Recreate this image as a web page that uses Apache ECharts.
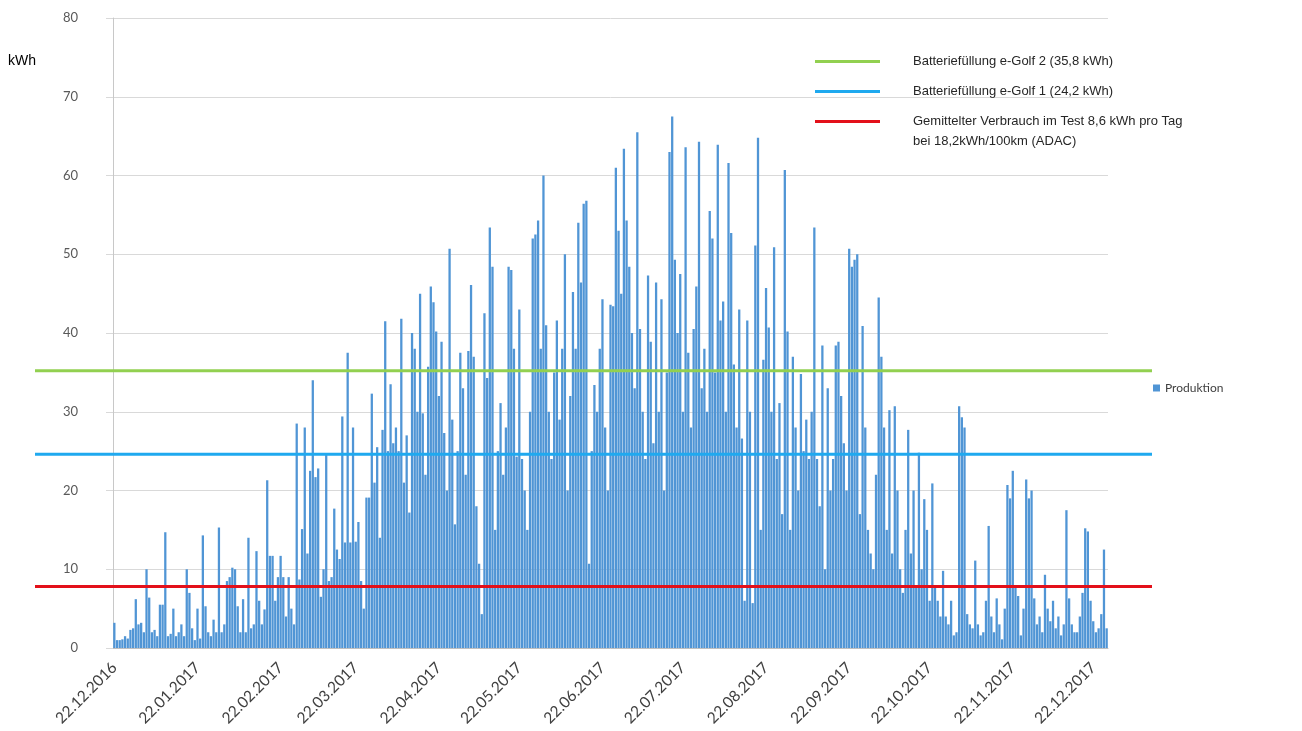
<!DOCTYPE html>
<html>
<head>
<meta charset="utf-8">
<script src="https://cdn.jsdelivr.net/npm/echarts@6/dist/echarts.min.js"></script>
<style>
  html, body { margin: 0; padding: 0; background: #fff; }
  #chart { width: 1302px; height: 731px; }
</style>
</head>
<body>
<div id="chart"></div>
<script>
// Tagesproduktion in kWh, ab 22.12.2016
var dec16 = [3.2, 1.0, 1.0, 1.1, 1.5, 1.2, 2.3, 2.5, 6.2, 3.0];
var jan17 = [3.2, 2.0, 10.0, 6.4, 2.0, 2.3, 1.5, 5.5, 5.5, 14.7, 1.5, 1.8, 5.0, 1.5, 2.0, 3.0, 1.5, 10.0, 7.0, 2.5, 1.0, 5.0, 1.2, 14.3, 5.3, 2.0, 1.5, 3.6, 2.0, 15.3, 2.0];
var feb17 = [3.0, 8.5, 9.0, 10.2, 10.0, 5.3, 2.0, 6.2, 2.0, 14.0, 2.5, 3.0, 12.3, 6.0, 3.0, 4.9, 21.3, 11.7, 11.7, 6.0, 9.0, 11.7, 9.0, 4.0, 9.0, 5.0, 3.0, 28.5];
var mar17 = [8.7, 15.1, 28.0, 12.0, 22.5, 34.0, 21.7, 22.8, 6.5, 10.0, 24.5, 8.5, 9.0, 17.7, 12.5, 11.3, 29.4, 13.4, 37.5, 13.4, 28.0, 13.5, 16.0, 8.5, 5.0, 19.1, 19.1, 32.3, 21.0, 25.5, 14.0];
var apr17 = [27.7, 41.5, 25.0, 33.5, 26.0, 28.0, 25.0, 41.8, 21.0, 27.0, 17.2, 40.0, 38.0, 30.0, 45.0, 29.8, 22.0, 35.7, 45.9, 43.9, 40.2, 32.0, 38.9, 27.3, 20.0, 50.7, 29.0, 15.7, 25.0, 37.5];
var may17 = [33.0, 22.0, 37.7, 46.1, 37.0, 18.0, 10.7, 4.3, 42.5, 34.3, 53.4, 48.4, 15.0, 25.0, 31.1, 22.0, 28.0, 48.4, 48.0, 38.0, 24.3, 43.0, 24.0, 20.0, 15.0, 30.0, 52.0, 52.5, 54.3, 38.0, 60.0];
var jun17 = [41.0, 30.0, 24.0, 35.0, 41.6, 29.0, 38.0, 50.0, 20.0, 32.0, 45.2, 38.0, 54.0, 46.4, 56.4, 56.8, 10.7, 25.0, 33.4, 30.0, 38.0, 44.3, 28.0, 20.0, 43.6, 43.4, 61.0, 53.0, 45.0, 63.4];
var jul17 = [54.3, 48.4, 40.0, 33.0, 65.5, 40.5, 30.0, 24.0, 47.3, 38.9, 26.0, 46.4, 30.0, 44.3, 20.0, 35.0, 63.0, 67.5, 49.3, 40.0, 47.5, 30.0, 63.6, 37.5, 28.0, 40.5, 45.9, 64.3, 33.0, 38.0, 30.0];
var aug17 = [55.5, 52.0, 35.0, 63.9, 41.6, 44.0, 30.0, 61.6, 52.7, 36.0, 28.0, 43.0, 26.6, 6.0, 41.6, 30.0, 5.7, 51.1, 64.8, 15.0, 36.6, 45.7, 40.7, 30.0, 50.9, 24.0, 31.1, 17.0, 60.7, 40.2, 15.0];
var sep17 = [37.0, 28.0, 20.0, 34.8, 25.0, 29.0, 24.0, 30.0, 53.4, 24.0, 18.0, 38.4, 10.0, 33.0, 20.0, 24.0, 38.4, 38.9, 32.0, 26.0, 20.0, 50.7, 48.4, 49.3, 50.0, 17.0, 40.9, 28.0, 15.0, 12.0];
var oct17 = [10.0, 22.0, 44.5, 37.0, 28.0, 15.0, 30.2, 12.0, 30.7, 20.0, 10.0, 7.0, 15.0, 27.7, 12.0, 20.0, 8.0, 24.8, 10.0, 18.9, 15.0, 6.0, 20.9, 8.0, 6.0, 4.0, 9.8, 4.0, 3.0, 6.0, 1.6];
var nov17 = [2.0, 30.7, 29.3, 28.0, 4.3, 3.0, 2.5, 11.1, 3.0, 1.6, 2.0, 6.0, 15.5, 4.0, 2.0, 6.3, 3.0, 1.1, 5.0, 20.7, 19.0, 22.5, 8.0, 6.6, 1.6, 5.0, 21.4, 19.0, 20.0, 6.3];
var dec17 = [3.0, 4.0, 2.0, 9.3, 5.0, 3.4, 6.0, 2.5, 4.0, 1.6, 3.0, 17.5, 6.3, 3.0, 2.0, 2.0, 4.0, 7.0, 15.2, 14.8, 6.0, 3.4, 2.0, 2.5, 4.3, 12.5, 2.5];

// Referenzlinien (Lage wie im Bild)
var refNames = ['Batteriefüllung e-Golf 2 (35,8 kWh)', 'Batteriefüllung e-Golf 1 (24,2 kWh)', 'Gemittelter Verbrauch im Test 8,6 kWh pro Tag'];
var refValues = [35.2, 24.6, 7.8];
var refColors = ['#92d050', '#1fa9ef', '#e3101a'];

var yTicks = [0, 10, 20, 30, 40, 50, 60, 70, 80];

var production = [].concat(dec16, jan17, feb17, mar17, apr17, may17, jun17, jul17, aug17, sep17, oct17, nov17, dec17);

// Datumskategorien
var dates = [];
var start = Date.UTC(2016, 11, 22);
for (var i = 0; i < production.length; i++) {
    var d = new Date(start + i * 86400000);
    var dd = ('0' + d.getUTCDate()).slice(-2);
    var mm = ('0' + (d.getUTCMonth() + 1)).slice(-2);
    dates.push(dd + '.' + mm + '.' + d.getUTCFullYear());
}
function is22(idx, val) { return val.indexOf('22.') === 0; }

var chart = echarts.init(document.getElementById('chart'));

var series = [{
    name: 'Produktion',
    type: 'bar',
    xAxisIndex: 0,
    yAxisIndex: 0,
    data: production,
    barCategoryGap: '15%',
    itemStyle: { color: '#5095d5' },
    animation: false
}];
refNames.forEach(function (n, k) {
    series.push({
        name: n,
        type: 'line',
        xAxisIndex: 1,
        yAxisIndex: 1,
        data: [[0, refValues[k]], [1, refValues[k]]],
        symbol: 'none',
        lineStyle: { color: refColors[k], width: 3 },
        itemStyle: { color: refColors[k] },
        z: 5,
        animation: false
    });
});

var option = {
    backgroundColor: '#fff',
    title: {
        text: 'kWh',
        left: 8, top: 54, padding: 0,
        textStyle: { fontFamily: 'Liberation Sans', fontSize: 14, fontWeight: 'normal', color: '#000' }
    },
    grid: [
        { left: 113, right: 194, top: 18, bottom: 83 },
        { left: 35, right: 150, top: 18, bottom: 83 }
    ],
    xAxis: [{
        type: 'category',
        gridIndex: 0,
        data: dates,
        boundaryGap: true,
        axisLine: { lineStyle: { color: '#bfbfbf' } },
        axisTick: { interval: is22, alignWithLabel: true, length: 5, lineStyle: { color: '#bfbfbf' } },
        axisLabel: {
            interval: is22, rotate: 45, margin: 17,
            fontFamily: 'Lato', fontSize: 15.5, color: '#404040'
        },
        splitLine: { show: false }
    }, {
        type: 'value', gridIndex: 1, min: 0, max: 1, show: false
    }],
    yAxis: [{
        type: 'value',
        gridIndex: 0,
        min: yTicks[0], max: yTicks[yTicks.length - 1], interval: 10,
        axisLine: { show: true, lineStyle: { color: '#c8c8c8' } },
        axisTick: { show: true, length: 7, lineStyle: { color: '#d9d9d9' } },
        axisLabel: { margin: 35, fontFamily: 'Lato', fontSize: 13, color: '#595959' },
        splitLine: { lineStyle: { color: '#d9d9d9' } }
    }, {
        type: 'value', gridIndex: 1, min: 0, max: 80, show: false
    }],
    legend: [{
        data: refNames,
        orient: 'vertical',
        left: 815, top: 51, padding: 0,
        itemWidth: 65, itemHeight: 3, itemGap: 9,
        icon: 'rect',
        selectedMode: false,
        textStyle: { fontFamily: 'Liberation Sans', fontSize: 13, color: '#262626', lineHeight: 21, padding: [0, 0, 0, 28] }
    }, {
        data: ['Produktion'],
        left: 1153, top: 382, padding: 0,
        itemWidth: 7, itemHeight: 7,
        icon: 'rect',
        selectedMode: false,
        textStyle: { fontFamily: 'Lato', fontSize: 12, color: '#404040' }
    }],
    graphic: [{
        type: 'text',
        left: 913, top: 135,
        style: { text: 'bei 18,2kWh/100km (ADAC)', font: '13px "Liberation Sans"', fill: '#262626' }
    }],
    series: series
};
chart.setOption(option);
</script>
</body>
</html>
